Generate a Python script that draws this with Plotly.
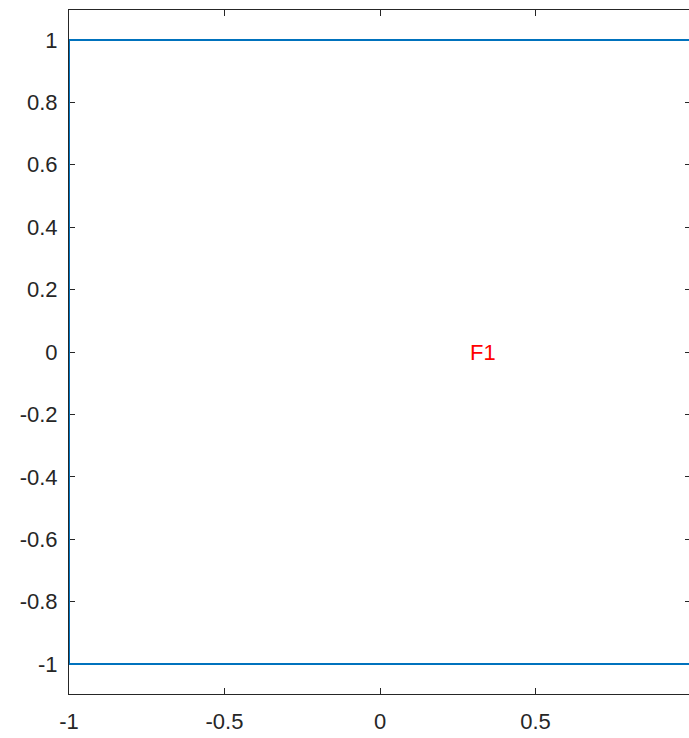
import plotly.graph_objects as go

# Geometry boundary (square edges) and face label
edge_x = [-1, 1, 1, -1, -1]
edge_y = [-1, -1, 1, 1, -1]
face_labels = ["F1"]
face_label_x = [0.33]
face_label_y = [0.0]

x_ticks = [-1, -0.5, 0, 0.5, 1]
x_ticktext = ["-1", "-0.5", "0", "0.5", "1"]
y_ticks = [-1, -0.8, -0.6, -0.4, -0.2, 0, 0.2, 0.4, 0.6, 0.8, 1]
y_ticktext = ["-1", "-0.8", "-0.6", "-0.4", "-0.2", "0", "0.2", "0.4", "0.6", "0.8", "1"]

axis_color = "#262626"
font_family = "Liberation Sans, Arial, Helvetica, sans-serif"
font_size = 22

fig = go.Figure()
fig.add_trace(go.Scatter(x=edge_x, y=edge_y, mode="lines",
                         line=dict(color="#0072BD", width=2),
                         hoverinfo="skip", showlegend=False))

for txt, lx, ly in zip(face_labels, face_label_x, face_label_y):
    fig.add_annotation(x=lx, y=ly, text=txt, showarrow=False,
                       font=dict(color="#FF0000", size=font_size, family=font_family),
                       xanchor="center", yanchor="middle")

common = dict(showgrid=False, zeroline=False, ticks="inside", ticklen=6,
              tickwidth=1, tickcolor=axis_color, linecolor=axis_color, linewidth=1,
              tickfont=dict(color=axis_color, size=font_size, family=font_family),
              showline=True, mirror="ticks", layer="below traces")

fig.update_layout(
    width=691, height=738,
    margin=dict(l=69, r=0, t=10, b=44),
    plot_bgcolor="white", paper_bgcolor="white",
    showlegend=False,
    xaxis=dict(range=[-1, 1], tickvals=x_ticks, ticktext=x_ticktext,
               ticklabelstandoff=8, **common),
    yaxis=dict(range=[-1.096, 1.096], tickvals=y_ticks, ticktext=y_ticktext,
               ticklabelstandoff=6, **common),
)

fig.write_html("out.html",
               config={"displayModeBar": False},
               post_script="document.body.style.margin='0';document.body.style.overflow='hidden';")
